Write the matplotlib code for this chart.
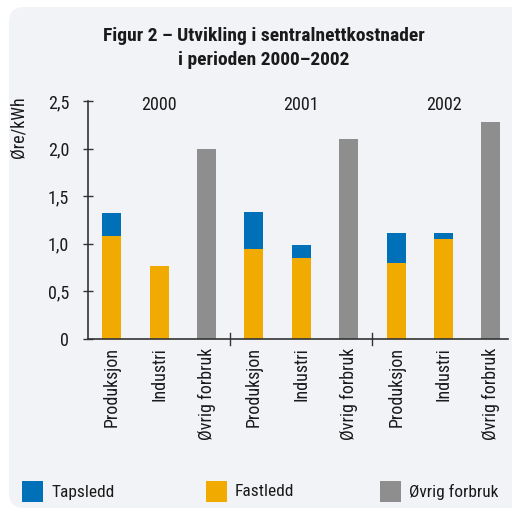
#! /usr/bin/env python3
'''Figur 2 - sentralnettkostnader 2000-2002'''

import numpy as np
import matplotlib
matplotlib.use('Agg')
import matplotlib.pyplot as plt
from matplotlib.patches import FancyBboxPatch, Rectangle

plt.rcParams['font.family'] = ['Roboto Condensed', 'Archivo Narrow',
                               'PT Sans Narrow', 'Liberation Sans Narrow',
                               'DejaVu Sans']

years = ['2000', '2001', '2002']
groups = ['Produksjon', 'Industri', 'Øvrig forbruk']
fastledd = [1.08, 0.77, 0.0, 0.95, 0.85, 0.0, 0.80, 1.05, 0.0]
tapsledd = [0.24, 0.0, 0.0, 0.38, 0.14, 0.0, 0.31, 0.06, 0.0]
ovrig = [0.0, 0.0, 2.00, 0.0, 0.0, 2.10, 0.0, 0.0, 2.28]
yticks = [0, 0.5, 1.0, 1.5, 2.0, 2.5]
ytick_labels = ['0', '0,5', '1,0', '1,5', '2,0', '2,5']

c_taps = '#0070b8'
c_fast = '#f0aa00'
c_ovrig = '#8e8e8e'
bg = '#f2f3f7'
ink = '#1a1a1a'

fig = plt.figure(figsize=(5.12, 5.08), dpi=100)
fig.patch.set_facecolor('white')
panel = FancyBboxPatch((9 / 512, 0), 1.2, (508 - 7) / 508,
                       boxstyle='round,pad=0,rounding_size=0.03',
                       transform=fig.transFigure, facecolor=bg,
                       edgecolor='none', zorder=-10)
fig.patches.append(panel)

fig.text(264 / 512, 1 - 48 / 508,
         'Figur 2 – Utvikling i sentralnettkostnader\ni perioden 2000–2002',
         ha='center', va='center', fontsize=14, fontweight='bold',
         color=ink, linespacing=1.4)

ax = fig.add_axes([88 / 512, 1 - 339 / 508, 420 / 512, 238 / 508])
ax.set_facecolor('none')

x = np.arange(len(fastledd))
w = 0.4
ax.bar(x, fastledd, w, color=c_fast, zorder=2)
ax.bar(x, tapsledd, w, bottom=fastledd, color=c_taps, zorder=2)
ax.bar(x, ovrig, w, color=c_ovrig, zorder=2)

ax.set_xlim(-0.5, 8.36)
ax.set_ylim(0, 2.5)
ax.set_yticks(yticks)
ax.set_yticklabels(ytick_labels, fontsize=13, color=ink)
ax.tick_params(axis='y', direction='inout', length=7, width=1,
               color='#333333', pad=10)

ax.set_xticks(x)
ax.set_xticklabels(groups * len(years), rotation=90, fontsize=13,
                   color=ink, va='top')
ax.tick_params(axis='x', length=0, pad=6)

# group separators on the x axis
for sep in [2.5, 5.5]:
    ax.plot([sep, sep], [-0.065, 0.065], color='#333333', lw=1,
            clip_on=False, zorder=3)

for i, yr in enumerate(years):
    ax.text(3 * i + 1, 2.46, yr, ha='center', va='center',
            fontsize=13, color=ink)

for side in ['top', 'right']:
    ax.spines[side].set_visible(False)
for side in ['left', 'bottom']:
    ax.spines[side].set_color('#333333')
    ax.spines[side].set_linewidth(1.2)

ax.set_ylabel('Øre/kWh', fontsize=13, color=ink)
ax.yaxis.set_label_coords(-0.143, 0.89)

# legend
legend_items = [('Tapsledd', c_taps, 22), ('Fastledd', c_fast, 206),
                ('Øvrig forbruk', c_ovrig, 380)]
for label, col, px in legend_items:
    fig.patches.append(Rectangle((px / 512, 1 - 502 / 508), 21 / 512,
                                 21 / 508, transform=fig.transFigure,
                                 facecolor=col, edgecolor='none'))
    fig.text((px + 29) / 512, 1 - 492 / 508, label, ha='left',
             va='center', fontsize=12.5, color=ink)

fig.savefig('out.png', dpi=100, facecolor=fig.get_facecolor())
